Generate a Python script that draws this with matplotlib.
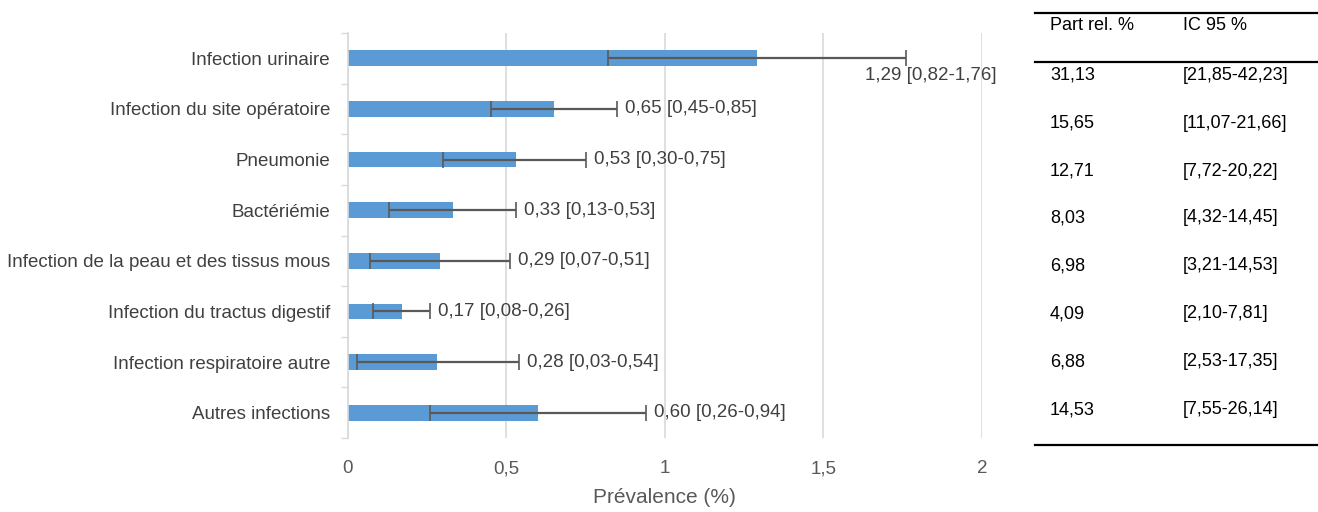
import matplotlib.pyplot as plt
import numpy as np

# Categories (top to bottom)
categories = [
    "Infection urinaire",
    "Infection du site opératoire",
    "Pneumonie",
    "Bactériémie",
    "Infection de la peau et des tissus mous",
    "Infection du tractus digestif",
    "Infection respiratoire autre",
    "Autres infections",
]
prevalence = [1.29, 0.65, 0.53, 0.33, 0.29, 0.17, 0.28, 0.60]
ci_low = [0.82, 0.45, 0.30, 0.13, 0.07, 0.08, 0.03, 0.26]
ci_high = [1.76, 0.85, 0.75, 0.53, 0.51, 0.26, 0.54, 0.94]

# Table on the right
part_rel = ["31,13", "15,65", "12,71", "8,03", "6,98", "4,09", "6,88", "14,53"]
ic95 = ["[21,85-42,23]", "[11,07-21,66]", "[7,72-20,22]", "[4,32-14,45]",
        "[3,21-14,53]", "[2,10-7,81]", "[2,53-17,35]", "[7,55-26,14]"]

plt.rcParams['font.family'] = ['Liberation Sans', 'DejaVu Sans']

def fmt(v):
    return f"{v:.2f}".replace(".", ",")

fig = plt.figure(figsize=(13.18, 5.12), dpi=100)
ax = fig.add_axes([0.264, 0.1445, 0.481, 0.791])

y = np.arange(len(categories))
err = [np.array(prevalence) - np.array(ci_low), np.array(ci_high) - np.array(prevalence)]
ax.barh(y, prevalence, height=0.31, color="#5b9bd5", zorder=2)
ax.errorbar(prevalence, y, xerr=err, fmt="none", ecolor="#595959", elinewidth=1.6,
            capsize=6, capthick=1.2, zorder=3)

for i, (p, lo, hi) in enumerate(zip(prevalence, ci_low, ci_high)):
    txt = f"{fmt(p)} [{fmt(lo)}-{fmt(hi)}]"
    if i == 0:
        ax.text(hi + 0.08, i + 0.33, txt, ha="center", va="center", fontsize=13.5, color="#404040")
    else:
        ax.text(hi + 0.025, i, txt, ha="left", va="center", fontsize=13.5, color="#404040")

ax.set_xlim(0, 2)
ax.set_ylim(len(categories) - 0.5, -0.5)
ax.set_xticks([0, 0.5, 1, 1.5, 2])
ax.set_xticklabels(["0", "0,5", "1", "1,5", "2"])
ax.set_yticks(y)
ax.set_yticklabels(categories)
ax.set_yticks(np.arange(-0.5, len(categories)), minor=True)
ax.tick_params(axis="y", which="major", length=0, pad=13, labelsize=13.5, labelcolor="#404040")
ax.tick_params(axis="y", which="minor", length=5, color="#d9d9d9", width=1)
ax.tick_params(axis="x", length=0, pad=16, labelsize=13.5, labelcolor="#595959")
ax.grid(axis="x", color="#d9d9d9", linewidth=1.2, zorder=0)
for s in ["top", "right", "bottom"]:
    ax.spines[s].set_visible(False)
ax.spines["left"].set_color("#d9d9d9")
ax.spines["left"].set_linewidth(1.2)
ax.set_xlabel("Prévalence (%)", fontsize=15, color="#595959", labelpad=8)

# Table drawn in figure coordinates
W, H = 1318, 512
def fx(px):
    return px / W
def fy(py):
    return 1 - py / H

for py in [13, 62, 445]:
    fig.add_artist(plt.Line2D([fx(1035), fx(1318)], [fy(py), fy(py)], color="black", linewidth=1.6))

tkw = dict(fontsize=13, va="center", ha="left", color="black")
fig.text(fx(1050), fy(26), "Part rel. %", **tkw)
fig.text(fx(1183), fy(26), "IC 95 %", **tkw)
row_y = [75, 123, 171, 218, 266, 314, 362, 410]
for ry, pr, ic in zip(row_y, part_rel, ic95):
    fig.text(fx(1050), fy(ry), pr, **tkw)
    fig.text(fx(1183), fy(ry), ic, **tkw)

fig.savefig("out.png", dpi=100)
